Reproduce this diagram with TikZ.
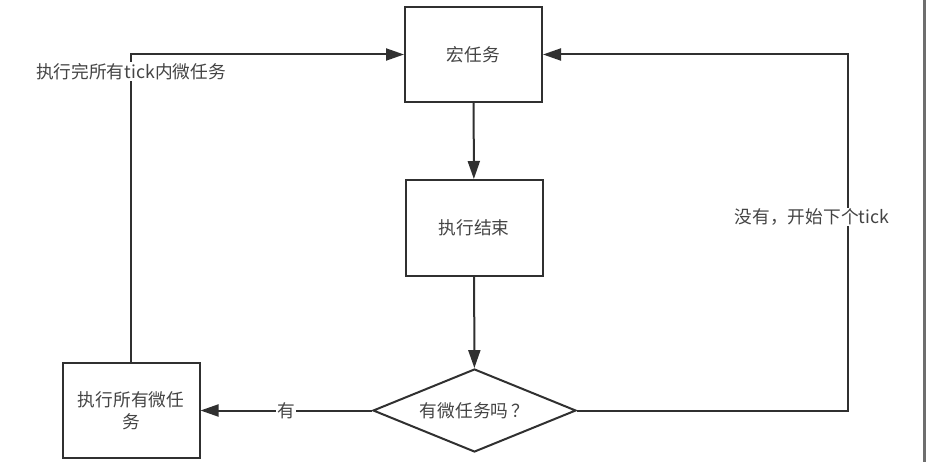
\documentclass[tikz,border=0pt]{standalone}
\usepackage{fontspec}
\setmainfont{Noto Sans CJK SC}
\usetikzlibrary{arrows.meta,shapes.geometric}
\definecolor{linec}{HTML}{303030}
\definecolor{textc}{HTML}{444444}
\definecolor{barc}{HTML}{6E6E6E}
\tikzset{
  boxnode/.style={draw=linec, line width=2pt, rectangle, inner sep=2pt,
    minimum width=137pt, minimum height=95pt, text=textc, align=center,
    font=\fontsize{17.7}{22}\selectfont},
  decnode/.style={draw=linec, line width=2pt, diamond, shape aspect=2.45,
    inner sep=2pt, minimum width=203pt, minimum height=83pt, text=textc,
    font=\fontsize{17.7}{22}\selectfont},
  conn/.style={draw=linec, line width=2pt, -{Triangle[length=18pt,width=12pt]}},
  lbl/.style={fill=white, text=textc, inner sep=1pt, font=\fontsize{17.7}{22}\selectfont}
}
\begin{document}
\begin{tikzpicture}[x=1pt,y=-1pt]
\useasboundingbox (0,0) rectangle (926,462);
\fill[white] (0,0) rectangle (926,462);
\fill[barc] (922.5,0) rectangle (926,462);

\node[boxnode] (macro) at (473.5,54.5) {宏任务};
\node[boxnode, minimum height=96pt] (done) at (474,228) {执行结束};
\node[decnode] (diam) at (474.5,410.5) {有微任务吗\,？};
\node[boxnode] (allmicro) at (131,410.5) {执行所有微任\\务};
\coordinate (rc) at (848,410.5);

\draw[conn] (macro) -- (done);
\draw[conn] (done) -- (diam);
\draw[conn] (diam.west) -- node[lbl] {有} (allmicro.east);
\draw[conn] (allmicro.north) |- node[lbl, pos=0.472] {执行完所有tick内微任务} (macro.west);
\draw[conn] (diam.east) -- (rc) |- (macro.east);
\node[lbl] (nolbl) at (812,217) {没有，开始下个tick};
\end{tikzpicture}
\end{document}
